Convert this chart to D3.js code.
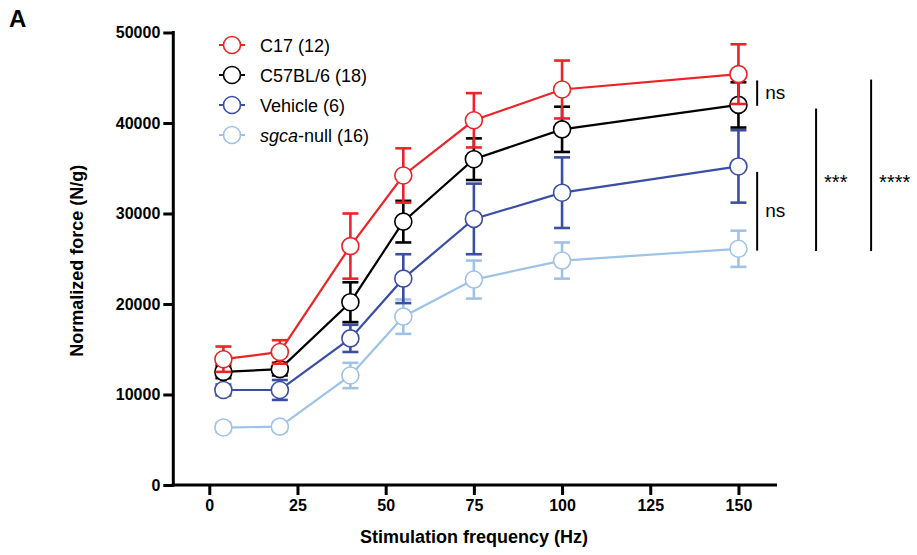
<!DOCTYPE html>
<html>
<head>
<meta charset="utf-8">
<script src="https://cdn.jsdelivr.net/npm/d3@7"></script>
<style>
  html, body { margin: 0; padding: 0; background: #fff; }
  svg { display: block; font-family: "Liberation Sans", Arial, Helvetica, sans-serif; }
</style>
</head>
<body>
<svg id="chart" width="917" height="555"></svg>
<script>
// Stimulation frequencies (Hz)
const frequencies = [4, 20, 40, 55, 75, 100, 150];

// Mean normalized force (N/g) and SEM per group
const c17Mean     = [13900, 14700, 26400, 34200, 40300, 43700, 45400];
const c17Err      = [1400, 1300, 3600, 3000, 3000, 3200, 3300];
const b6Mean      = [12500, 12800, 20200, 29100, 36000, 39300, 42000];
const b6Err       = [700, 700, 2200, 2300, 2300, 2500, 2500];
const vehicleMean = [10500, 10500, 16200, 22800, 29400, 32300, 35200];
const vehicleErr  = [600, 1100, 1500, 2700, 3900, 3900, 4000];
const sgcaMean    = [6350, 6450, 12100, 18600, 22700, 24800, 26100];
const sgcaErr     = [500, 500, 1400, 1900, 2100, 2000, 2000];

const groupNames  = ["C17", "C57BL/6", "Vehicle", "sgca-null"];
const groupN      = [12, 18, 6, 16];

const xTicks = [0, 25, 50, 75, 100, 125, 150];
const yTicks = [0, 10000, 20000, 30000, 40000, 50000];

// Significance brackets at 150 Hz: x position (Hz units), y span, label
const bracketX     = [155.3, 155.3, 172, 187.6];
const bracketY0    = [41900, 25900, 25850, 25850];
const bracketY1    = [44700, 34600, 41600, 44800];
const bracketLabel = ["ns", "ns", "***", "****"];

const colors = ["#ec2427", "#000000", "#3a4fa3", "#9ec3e8"];

const groups = [
  { name: groupNames[0], n: groupN[0], mean: c17Mean, err: c17Err, color: colors[0] },
  { name: groupNames[1], n: groupN[1], mean: b6Mean, err: b6Err, color: colors[1] },
  { name: groupNames[2], n: groupN[2], mean: vehicleMean, err: vehicleErr, color: colors[2] },
  { name: groupNames[3], n: groupN[3], mean: sgcaMean, err: sgcaErr, color: colors[3] }
];

const svg = d3.select("#chart");

const x = d3.scaleLinear().domain([-10.2, 160.5]).range([173.3, 775.5]);
const y = d3.scaleLinear().domain([0, 50000]).range([485, 32.5]);

// Axes
const yAxis = svg.append("g")
  .attr("transform", `translate(${x.range()[0]},0)`)
  .call(d3.axisLeft(y).tickValues(yTicks).tickSize(10).tickPadding(3).tickFormat(d3.format("d")));
const xAxis = svg.append("g")
  .attr("transform", `translate(0,${y(0)})`)
  .call(d3.axisBottom(x).tickValues(xTicks).tickSize(10).tickPadding(5));

[yAxis, xAxis].forEach(ax => {
  ax.select(".domain").attr("stroke", "#000").attr("stroke-width", 3)
    .attr("stroke-linecap", "square");
  ax.selectAll(".tick line").attr("stroke", "#000").attr("stroke-width", 3);
  ax.selectAll(".tick text").attr("fill", "#000")
    .attr("font-size", 16).attr("font-weight", "bold");
});
// plain path domains without outer ticks
yAxis.select(".domain").attr("d", `M0,${y(0)}V${y(50000)}`);
xAxis.select(".domain").attr("d", `M${x.range()[0]},0H${x.range()[1]}`);

// Axis titles
svg.append("text")
  .attr("x", 474).attr("y", 543)
  .attr("text-anchor", "middle")
  .attr("font-size", 18).attr("font-weight", "bold")
  .text("Stimulation frequency (Hz)");
svg.append("text")
  .attr("transform", `translate(83,${(y(0) + y(50000)) / 2 + 2}) rotate(-90)`)
  .attr("text-anchor", "middle")
  .attr("font-size", 18).attr("font-weight", "bold")
  .text("Normalized force (N/g)");

// Panel letter
svg.append("text")
  .attr("x", 9).attr("y", 27)
  .attr("font-size", 24).attr("font-weight", "bold")
  .text("A");

// Series, drawn from the lowest group up so that C17 sits on top
const line = d3.line().x((d, i) => x(frequencies[i])).y(d => y(d));
const capHalf = 8;
const r = 8.5;

groups.slice().reverse().forEach(g => {
  const layer = svg.append("g");
  const pts = frequencies.map((f, i) => ({ f, m: g.mean[i], e: g.err[i] }));

  const eb = layer.append("g").attr("stroke", g.color).attr("stroke-width", 2.6);
  eb.selectAll("line.v").data(pts).join("line")
    .attr("x1", d => x(d.f)).attr("x2", d => x(d.f))
    .attr("y1", d => y(d.m - d.e)).attr("y2", d => y(d.m + d.e));
  eb.selectAll("line.t").data(pts).join("line")
    .attr("x1", d => x(d.f) - capHalf).attr("x2", d => x(d.f) + capHalf)
    .attr("y1", d => y(d.m + d.e)).attr("y2", d => y(d.m + d.e));
  eb.selectAll("line.b").data(pts).join("line")
    .attr("x1", d => x(d.f) - capHalf).attr("x2", d => x(d.f) + capHalf)
    .attr("y1", d => y(d.m - d.e)).attr("y2", d => y(d.m - d.e));

  layer.append("path")
    .attr("d", line(g.mean))
    .attr("fill", "none").attr("stroke", g.color).attr("stroke-width", 2.2);

  layer.selectAll("circle").data(pts).join("circle")
    .attr("cx", d => x(d.f)).attr("cy", d => y(d.m)).attr("r", r)
    .attr("fill", "#fff").attr("stroke", g.color).attr("stroke-width", 1.6);
});

// Legend
const legend = svg.append("g");
const legendY = [45, 75, 105, 135];
groups.forEach((g, i) => {
  const row = legend.append("g").attr("transform", `translate(232,${legendY[i]})`);
  row.append("line").attr("x1", -13).attr("x2", 13).attr("y1", 0).attr("y2", 0)
    .attr("stroke", g.color).attr("stroke-width", 2);
  row.append("circle").attr("r", r).attr("fill", "#fff")
    .attr("stroke", g.color).attr("stroke-width", 1.6);
  const t = row.append("text").attr("x", 28).attr("y", 6.5).attr("font-size", 18).attr("fill", "#000");
  if (g.name === "sgca-null") {
    t.append("tspan").attr("font-style", "italic").text("sgca");
    t.append("tspan").text(`-null (${g.n})`);
  } else {
    t.text(`${g.name} (${g.n})`);
  }
});

// Significance brackets
bracketX.forEach((bx, i) => {
  svg.append("line")
    .attr("x1", x(bx)).attr("x2", x(bx))
    .attr("y1", y(bracketY0[i])).attr("y2", y(bracketY1[i]))
    .attr("stroke", "#000").attr("stroke-width", 2);
  const isStars = bracketLabel[i].startsWith("*");
  svg.append("text")
    .attr("x", x(bx) + 8)
    .attr("y", isStars ? y(bracketY0[i]) - 62 : (y(bracketY0[i]) + y(bracketY1[i])) / 2 + 6)
    .attr("font-size", isStars ? 20 : 19)
    .attr("fill", "#000")
    .text(bracketLabel[i]);
});
</script>
</body>
</html>
